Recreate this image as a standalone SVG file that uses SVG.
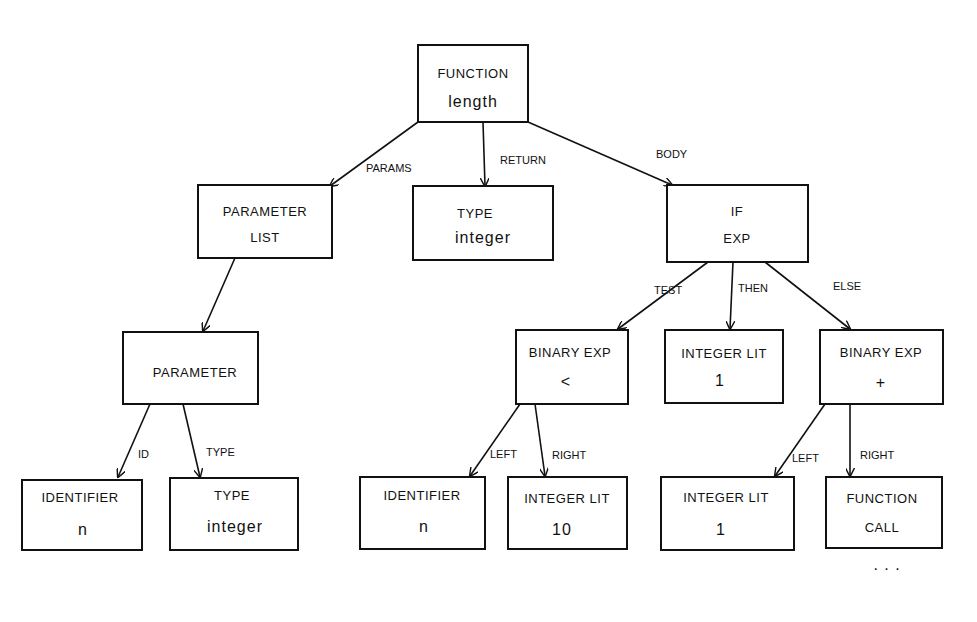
<svg xmlns="http://www.w3.org/2000/svg" width="977" height="622" viewBox="0 0 977 622">
<defs>
<marker id="ah" viewBox="0 0 10 10" refX="9" refY="5" markerWidth="9" markerHeight="9" orient="auto-start-reverse" markerUnits="userSpaceOnUse"><path d="M0,0 L10,5 L0,10" fill="none" stroke="#111" stroke-width="1.6"/></marker>
</defs>
<style>
rect{fill:#fff;stroke:#111;stroke-width:2}
text{font-family:"Liberation Sans",sans-serif;fill:#111;text-anchor:middle}
.n{font-size:13px;letter-spacing:0.5px}
.v{font-size:16px;letter-spacing:1px}
.l{font-size:11px;text-anchor:start}
line{stroke:#111;stroke-width:1.6;marker-end:url(#ah)}
</style>
<rect x="0" y="0" width="977" height="622" style="stroke:none"/>
<g id="edges">
<line x1="418" y1="122" x2="330" y2="186"/>
<line x1="483" y1="122" x2="485" y2="186"/>
<line x1="528" y1="122" x2="672" y2="185"/>
<line x1="235" y1="258" x2="203" y2="331"/>
<line x1="708" y1="262" x2="618" y2="329"/>
<line x1="733" y1="262" x2="730" y2="329"/>
<line x1="765" y1="262" x2="850" y2="329"/>
<line x1="150" y1="404" x2="118" y2="477"/>
<line x1="183" y1="404" x2="200" y2="477"/>
<line x1="520" y1="404" x2="470" y2="476"/>
<line x1="535" y1="404" x2="545" y2="476"/>
<line x1="825" y1="404" x2="775" y2="476"/>
<line x1="850" y1="404" x2="850" y2="476"/>
</g>
<g id="labels">
<text class="l" x="366" y="172">PARAMS</text>
<text class="l" x="500" y="164">RETURN</text>
<text class="l" x="656" y="158">BODY</text>
<text class="l" x="654" y="294">TEST</text>
<text class="l" x="738" y="292">THEN</text>
<text class="l" x="833" y="290">ELSE</text>
<text class="l" x="138" y="458">ID</text>
<text class="l" x="206" y="456">TYPE</text>
<text class="l" x="490" y="458">LEFT</text>
<text class="l" x="552" y="459">RIGHT</text>
<text class="l" x="792" y="462">LEFT</text>
<text class="l" x="860" y="459">RIGHT</text>
</g>
<g id="n1"><rect x="418" y="45" width="110" height="77"/><text class="n" x="473" y="78">FUNCTION</text><text class="v" x="473" y="107">length</text></g>
<g id="n2"><rect x="198" y="185" width="134" height="73"/><text class="n" x="265" y="216">PARAMETER</text><text class="n" x="265" y="242">LIST</text></g>
<g id="n3"><rect x="413" y="186" width="140" height="74"/><text class="n" x="475" y="218">TYPE</text><text class="v" x="483" y="243">integer</text></g>
<g id="n4"><rect x="667" y="185" width="141" height="77"/><text class="n" x="737" y="216">IF</text><text class="n" x="737" y="243">EXP</text></g>
<g id="n5"><rect x="123" y="332" width="135" height="72"/><text class="n" x="195" y="377">PARAMETER</text></g>
<g id="n6"><rect x="516" y="330" width="112" height="74"/><text class="n" x="570" y="357">BINARY EXP</text><text class="v" x="566" y="387">&lt;</text></g>
<g id="n7"><rect x="665" y="330" width="118" height="73"/><text class="n" x="724" y="358">INTEGER LIT</text><text class="v" x="720" y="386">1</text></g>
<g id="n8"><rect x="820" y="330" width="123" height="74"/><text class="n" x="881" y="357">BINARY EXP</text><text class="v" x="881" y="388">+</text></g>
<g id="n9"><rect x="22" y="480" width="120" height="70"/><text class="n" x="80" y="502">IDENTIFIER</text><text class="v" x="83" y="535">n</text></g>
<g id="n10"><rect x="170" y="478" width="128" height="72"/><text class="n" x="232" y="500">TYPE</text><text class="v" x="235" y="532">integer</text></g>
<g id="n11"><rect x="360" y="477" width="125" height="72"/><text class="n" x="422" y="500">IDENTIFIER</text><text class="v" x="424" y="532">n</text></g>
<g id="n12"><rect x="508" y="477" width="119" height="72"/><text class="n" x="567" y="503">INTEGER LIT</text><text class="v" x="562" y="535">10</text></g>
<g id="n13"><rect x="661" y="477" width="133" height="73"/><text class="n" x="726" y="502">INTEGER LIT</text><text class="v" x="721" y="535">1</text></g>
<g id="n14"><rect x="826" y="477" width="116" height="71"/><text class="n" x="882" y="503">FUNCTION</text><text class="n" x="882" y="532">CALL</text></g>
<text class="v" x="887" y="570">. . .</text>
</svg>
